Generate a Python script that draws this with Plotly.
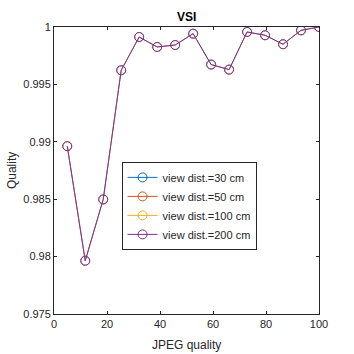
import plotly.graph_objects as go

jpeg_quality = [5, 11.79, 18.57, 25.36, 32.14, 38.93, 45.71, 52.5, 59.29, 66.07, 72.86, 79.64, 86.43, 93.21, 100]
vsi_30 = [0.98962, 0.97964, 0.98498, 0.99623, 0.99913, 0.99826, 0.99843, 0.99942, 0.99673, 0.99629, 0.99957, 0.99928, 0.9985, 0.99971, 1.0]
vsi_50 = [0.98962, 0.97964, 0.98498, 0.99623, 0.99913, 0.99826, 0.99843, 0.99942, 0.99673, 0.99629, 0.99957, 0.99928, 0.9985, 0.99971, 1.0]
vsi_100 = [0.98962, 0.97964, 0.98498, 0.99623, 0.99913, 0.99826, 0.99843, 0.99942, 0.99673, 0.99629, 0.99957, 0.99928, 0.9985, 0.99971, 1.0]
vsi_200 = [0.98962, 0.97964, 0.98498, 0.99623, 0.99913, 0.99826, 0.99843, 0.99942, 0.99673, 0.99629, 0.99957, 0.99928, 0.9985, 0.99971, 1.0]
series_names = ["view dist.=30 cm", "view dist.=50 cm", "view dist.=100 cm", "view dist.=200 cm"]
series_colors = ["#0072BD", "#D95319", "#EDB120", "#7E2F8E"]
x_ticks = [0, 20, 40, 60, 80, 100]
y_ticks = [0.975, 0.98, 0.985, 0.99, 0.995, 1.0]
y_tick_text = ["0.975", "0.98", "0.985", "0.99", "0.995", "1"]

fig = go.Figure()
all_vals = [vsi_30, vsi_50, vsi_100, vsi_200]
n = len(all_vals)
# lower series: data drawn thin (hidden under the top series), legend entries via empty traces
for i in range(n - 1):
    col = series_colors[i]
    fig.add_trace(go.Scatter(
        x=jpeg_quality, y=all_vals[i], name=series_names[i], mode="lines+markers",
        line=dict(color=col, width=0.4), showlegend=False, legendgroup=series_names[i],
        marker=dict(symbol="circle-open", size=9, color=col, line=dict(width=0.4, color=col)),
    ))
for i in range(n - 1):
    col = series_colors[i]
    fig.add_trace(go.Scatter(
        x=[None], y=[None], name=series_names[i], mode="lines+markers",
        line=dict(color=col, width=1), legendgroup=series_names[i],
        marker=dict(symbol="circle-open", size=9, color=col, line=dict(width=1, color=col)),
    ))
fig.add_trace(go.Scatter(
    x=jpeg_quality, y=all_vals[-1], name=series_names[-1], mode="lines+markers",
    line=dict(color=series_colors[-1], width=1),
    marker=dict(symbol="circle-open", size=9, color=series_colors[-1],
                line=dict(width=1, color=series_colors[-1])),
))

font_family = "Liberation Sans, Arial, sans-serif"
axis_col = "#262626"
fig.update_layout(
    width=354, height=354,
    margin=dict(l=54, r=35, t=27, b=40),
    paper_bgcolor="white", plot_bgcolor="white",
    font=dict(family=font_family, size=11, color=axis_col),
    title=dict(text="<b>VSI</b>", x=0.527, xanchor="center", y=1 - 17 / 354, yanchor="middle",
               font=dict(size=12, color="black")),
    showlegend=True,
    legend=dict(x=0.255, y=0.53, xanchor="left", yanchor="top", bgcolor="white",
                bordercolor="#262626", borderwidth=1, font=dict(size=11, color=axis_col),
                itemwidth=30, tracegroupgap=0),
    xaxis=dict(range=[0, 100], tickvals=x_ticks, ticks="inside", ticklen=3, tickcolor=axis_col,
               showline=True, linecolor=axis_col, linewidth=1, mirror="ticks", showgrid=False,
               zeroline=False, tickfont=dict(size=11, color=axis_col)),
    yaxis=dict(range=[0.975, 1.0], tickvals=y_ticks, ticktext=y_tick_text, ticks="inside", ticklen=3,
               tickcolor=axis_col, showline=True, linecolor=axis_col, linewidth=1, mirror="ticks",
               showgrid=False, zeroline=False, tickfont=dict(size=11, color=axis_col)),
    annotations=[
        dict(text="JPEG quality", xref="paper", yref="paper", x=0.5, y=-0.075, yanchor="top",
             xanchor="center", showarrow=False, font=dict(size=12, color=axis_col)),
        dict(text="Quality", xref="paper", yref="paper", x=-0.16, y=0.5, xanchor="center",
             yanchor="middle", textangle=-90, showarrow=False, font=dict(size=12, color=axis_col)),
    ],
)
fig.write_html("out.html")
